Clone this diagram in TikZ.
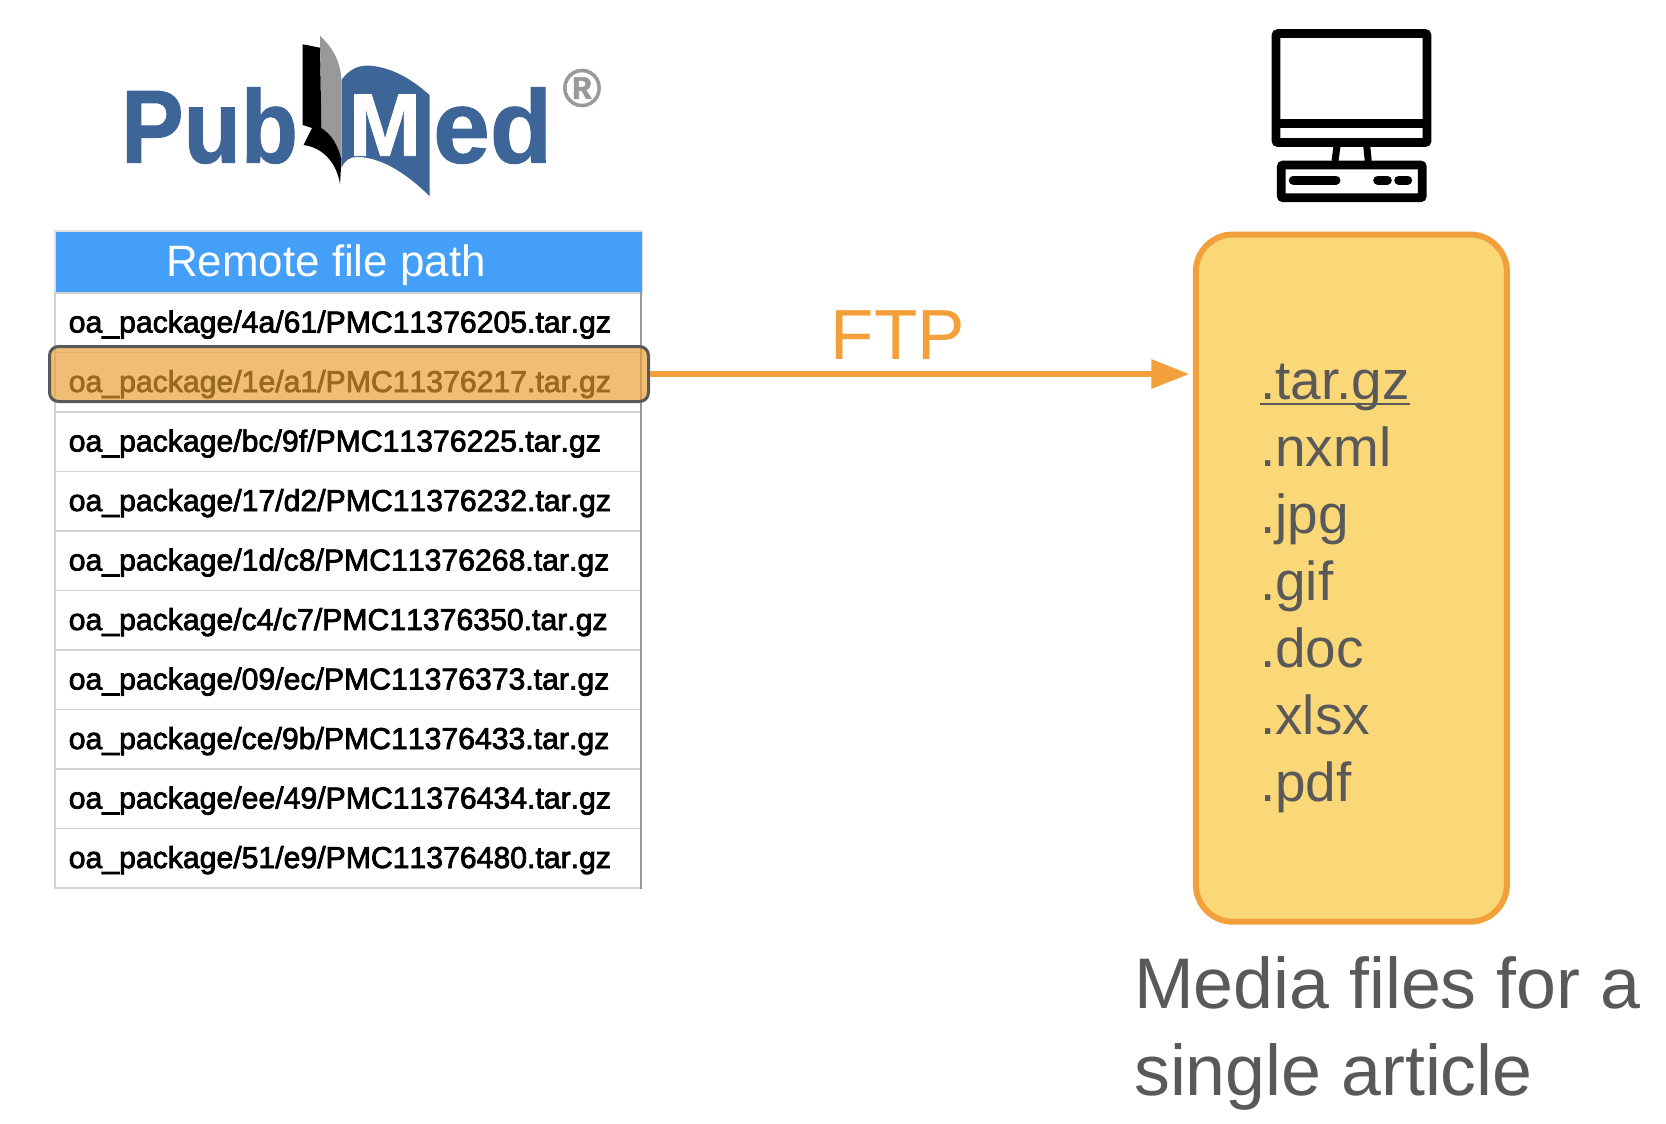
\documentclass[tikz,border=0pt]{standalone}
\usepackage{xcolor}
\usepackage{fontspec}
\usepackage{tikz}
\usetikzlibrary{arrows.meta, positioning, calc}
\setmainfont{Liberation Sans}
\newfontfamily\rowfont[FakeBold=2.5, Kerning=Off]{Liberation Sans}
\newfontfamily\logofont[FakeStretch=0.9, FakeBold=1]{Liberation Sans Bold}
\newfontfamily\logowide[FakeStretch=0.98, FakeBold=1]{Liberation Sans Bold}
\newcommand{\extline}[1]{\setbox0\hbox{#1}\rlap{\vrule height -3pt depth 5.5pt width \wd0}\box0}
\definecolor{logoblue}{RGB}{62,101,152}
\definecolor{logogray}{RGB}{153,153,153}
\definecolor{headerblue}{RGB}{68,159,249}
\definecolor{ftporange}{RGB}{244,160,58}
\definecolor{hilitecolor}{RGB}{231,158,48}
\definecolor{boxyellow}{RGB}{250,216,120}
\definecolor{captiongray}{RGB}{89,89,89}

\begin{document}
\begin{tikzpicture}[
    x=1pt, y=-1pt,
    rowbox/.style={draw=gray!35, line width=1.5pt, anchor=north west, minimum height=59.5pt, inner ysep=0pt, inner xsep=14pt, text width=557.5pt, align=left, text height=24pt, text depth=4pt, font=\fontsize{30.2}{32}\rowfont},
    iconline/.style={line width=8.8pt, rounded corners=2pt},
    pill/.style={line width=9pt, line cap=round},
    arrow/.style={-{Triangle[length=38pt, width=28pt]}, line width=6pt, ftporange}
]
    \useasboundingbox (0,0) rectangle (1666,1124);

    % PubMed logo
    \node[font=\fontsize{104}{104}\logofont, text=logoblue, anchor=base west, inner sep=0pt] (pub) at (121,162.7) {Pub};
    \node[font=\fontsize{104}{104}\logowide, text=logoblue, anchor=base west, inner sep=0pt] (ed) at (433,162.7) {ed};
    \fill[logoblue] (341.5,80) .. controls (350,68) and (360,65) .. (370.5,65.7) .. controls (395,68) and (415,82) .. (429.5,95) -- (429.5,196) .. controls (405,172) and (380,157) .. (357,157) .. controls (350,157) and (345,160) .. (341.5,168) -- cycle;
    \fill[logogray] (320,35.7) .. controls (333,48) and (341,62) .. (341.5,82) -- (341.5,160) .. controls (338,145) and (332,135) .. (321.4,128) -- cycle;
    \fill[black] (302.7,44.3) -- (320,47.7) -- (321.4,128) .. controls (332,135) and (338,145) .. (341.5,160) -- (340,184) .. controls (337,165) and (325,148) .. (303.6,145) -- (312,128) -- (302.7,125) -- cycle;
    \node[font=\fontsize{89}{89}\logowide, text=white, anchor=base, inner sep=0pt] (logom) at (385,155.7) {M};
    \node[font=\fontsize{54}{54}\logowide, text=logogray, inner sep=0pt] (regmark) at (582,88) {®};

    % Computer
    \draw[iconline] (1276,33.6) rectangle (1427,142.5);
    \draw[iconline] (1276,123.8) -- (1427,123.8);
    \draw[line width=7pt] (1337,146) -- (1335,161);
    \draw[line width=7pt] (1366.7,146) -- (1368.3,161);
    \draw[iconline] (1281.3,165) rectangle (1422.3,197.7);
    \draw[pill] (1293.3,180) -- (1336,180);
    \draw[pill] (1377.7,180) -- (1387.3,180);
    \draw[pill] (1398.7,180) -- (1407.7,180);

    % Table
    \node[fill=headerblue, draw=gray!25, line width=1.5pt, anchor=north west, minimum width=587.5pt, minimum height=62pt] (header) at (54,230) {};
    \node[font=\fontsize{43.9}{44}\selectfont, text=white, anchor=base, inner sep=0pt] (headertext) at (326,276) {Remote file path};
    \node[rowbox] (row1) at (54,292) {oa\_package/4a/61/PMC11376205.tar.gz};
    \node[rowbox] (row2) at (54,351.5) {oa\_package/1e/a1/PMC11376217.tar.gz};
    \node[rowbox] (row3) at (54,411) {oa\_package/bc/9f/PMC11376225.tar.gz};
    \node[rowbox] (row4) at (54,470.5) {oa\_package/17/d2/PMC11376232.tar.gz};
    \node[rowbox] (row5) at (54,530) {oa\_package/1d/c8/PMC11376268.tar.gz};
    \node[rowbox] (row6) at (54,589.5) {oa\_package/c4/c7/PMC11376350.tar.gz};
    \node[rowbox] (row7) at (54,649) {oa\_package/09/ec/PMC11376373.tar.gz};
    \node[rowbox] (row8) at (54,708.5) {oa\_package/ce/9b/PMC11376433.tar.gz};
    \node[rowbox] (row9) at (54,768) {oa\_package/ee/49/PMC11376434.tar.gz};
    \node[rowbox] (row10) at (54,827.5) {oa\_package/51/e9/PMC11376480.tar.gz};
    \draw[gray!80, line width=1.5pt] (row1.north east) -- (row10.south east);

    % Highlight
    \node[draw=captiongray, line width=3pt, fill=hilitecolor, fill opacity=.67, draw opacity=1, rounded corners=9pt, minimum width=599pt, minimum height=55pt] (hilite) at (349,374) {};

    % Media files
    \node[draw=ftporange, fill=boxyellow, line width=6pt, rounded corners=37pt, minimum width=311pt, minimum height=687.2pt] (filebox) at (1351.4,578.1) {};
    \node[font=\fontsize{54.9}{67}\selectfont, text=captiongray, anchor=north west, align=left, inner sep=0pt] (exts) at (1260,364) {\extline{.tar.gz}\\.nxml\\.jpg\\.gif\\.doc\\.xlsx\\.pdf};
    \node[font=\fontsize{71.7}{87}\selectfont, text=captiongray, anchor=north west, align=left, inner sep=0pt] (caption) at (1134,956) {Media files for a\\single article};

    % Connection
    \draw[arrow, shorten >=3.5pt] (hilite.east) -- (hilite.east -| filebox.west);
    \node[font=\fontsize{71}{71}\selectfont, text=ftporange, anchor=base, inner sep=0pt] (ftp) at (898,359) {FTP};
\end{tikzpicture}
\end{document}
